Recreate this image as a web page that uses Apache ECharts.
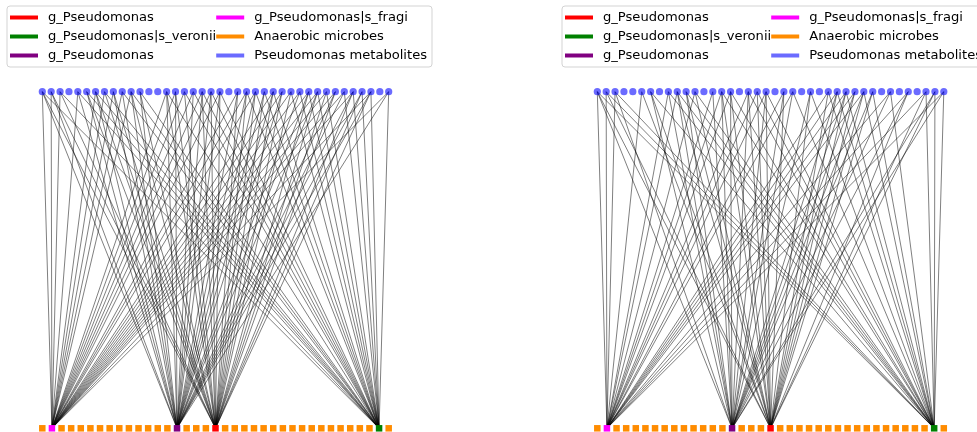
<!DOCTYPE html>
<html><head><meta charset="utf-8">
<script src="https://cdn.jsdelivr.net/npm/echarts@6/dist/echarts.min.js"></script>
<style>html,body{margin:0;padding:0;background:#fff}#c{width:977px;height:432px}</style>
</head><body><div id="c"></div>
<script>
// ---- data ----
const metaboliteCount = 40;   // top row (Pseudomonas metabolites)
const microbeCount = 37;      // bottom row (Anaerobic microbes)
const categoryNames = ['g_Pseudomonas', 'g_Pseudomonas|s_veronii', 'g_Pseudomonas ', 'g_Pseudomonas|s_fragi', 'Anaerobic microbes', 'Pseudomonas metabolites'];
const categoryColors = ['#ff0000', '#008000', '#800080', '#ff00ff', '#ff8c00', 'rgba(0,0,255,0.58)'];
// bottom-row index -> category index for the highlighted Pseudomonas taxa
const specialMicrobes = { 1: 3, 14: 2, 18: 0, 35: 1 };
// links: bottom-row special node -> list of connected top-row metabolites
const leftLinks = {
  1:  [0,1,2,4,6,7,8,9,10,14,15,16,17,18,19,20,22,23,24,26,27,28,29,30,31,32,33,34,35,37,39],
  14: [0,1,4,5,6,8,9,10,11,14,15,17,18,19,20,22,23,24,25,26,27,29,30,31,33,34,35,36,37,39],
  18: [0,1,2,5,6,7,8,10,11,14,15,16,18,19,20,22,23,24,25,26,27,28,30,31,32,33,35,36,37],
  35: [0,2,4,5,6,7,9,10,11,14,16,17,18,19,20,23,24,25,26,28,29,30,31,32,34,35,36,37,39]
};
const rightLinks = {
  1:  [0,1,2,5,8,9,11,13,14,15,17,18,19,21,22,26,27,28,29,30,33,35,37,39],
  14: [0,2,6,8,9,10,13,14,15,17,19,21,22,24,27,28,29,30,31,33,35,38,39],
  18: [0,1,5,6,9,10,11,14,15,17,18,19,21,24,26,27,28,29,30,31,35,37,38],
  35: [0,1,2,6,8,9,10,11,14,15,17,18,19,22,24,26,27,28,30,31,33,37,38,39]
};

// ---- build ----
function buildNodes() {
  const nodes = [];
  for (let i = 0; i < metaboliteCount; i++) {
    nodes.push({ name: 'met' + i, value: [i / (metaboliteCount - 1), 1], category: 5, symbol: 'circle', symbolSize: 7.2 });
  }
  for (let j = 0; j < microbeCount; j++) {
    const cat = specialMicrobes[j] !== undefined ? specialMicrobes[j] : 4;
    nodes.push({ name: 'mic' + j, value: [j / (microbeCount - 1), 0], category: cat, symbol: 'rect', symbolSize: 6.5 });
  }
  return nodes;
}
function buildLinks(map) {
  const links = [];
  Object.keys(map).forEach(k => {
    map[k].forEach(i => links.push({ source: i, target: metaboliteCount + Number(k) }));
  });
  return links;
}
const categories = categoryNames.map((n, i) => ({ name: n, itemStyle: { color: categoryColors[i] } }));

function legend(left) {
  return {
    orient: 'vertical', left: left, top: 6, height: 58,
    icon: 'rect', itemWidth: 28, itemHeight: 4, itemGap: 0,
    padding: [2, 5, 2, 3],
    borderColor: '#d3d3d3', borderWidth: 1, borderRadius: 3,
    selectedMode: false,
    textStyle: { fontFamily: 'DejaVu Sans', fontSize: 13.1, color: '#000', lineHeight: 19, width: 160, overflow: 'none', padding: [0, 0, 0, 5] },
    data: categoryNames
  };
}
function series(idx, linkMap) {
  return {
    type: 'graph', coordinateSystem: 'cartesian2d', xAxisIndex: idx, yAxisIndex: idx,
    data: buildNodes(), links: buildLinks(linkMap), categories: categories,
    lineStyle: { color: '#000', opacity: 0.5, width: 1 },
    label: { show: false }, emphasis: { disabled: true }, silent: true
  };
}

const chart = echarts.init(document.getElementById('c'), null, { renderer: 'canvas' });
chart.setOption({
  animation: false,
  backgroundColor: '#fff',
  legend: [legend(7), legend(562)],
  grid: [
    { left: 42.3, top: 91.7, width: 346.4, height: 336.6 },
    { left: 597.3, top: 91.7, width: 346.5, height: 336.6 }
  ],
  xAxis: [
    { gridIndex: 0, type: 'value', min: 0, max: 1, show: false },
    { gridIndex: 1, type: 'value', min: 0, max: 1, show: false }
  ],
  yAxis: [
    { gridIndex: 0, type: 'value', min: 0, max: 1, show: false },
    { gridIndex: 1, type: 'value', min: 0, max: 1, show: false }
  ],
  series: [series(0, leftLinks), series(1, rightLinks)]
});
</script></body></html>
